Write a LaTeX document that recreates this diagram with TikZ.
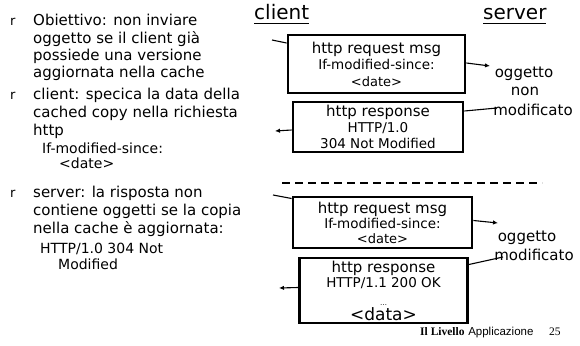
\documentclass[tikz,border=0pt]{standalone}
\usepackage{fontspec}
\setmainfont{DejaVu Sans}
\newfontfamily\timesf{Liberation Serif}
\newfontfamily\arialf{Liberation Sans}
\usetikzlibrary{arrows.meta}
\begin{document}
\begin{tikzpicture}[x=1pt,y=-1pt,
  lt/.style={anchor=base west, inner sep=0pt, font=\fontsize{15}{17}\selectfont},
  lts/.style={anchor=base west, inner sep=0pt, font=\fontsize{14}{16}\selectfont},
  bul/.style={anchor=base west, inner sep=0pt, font=\fontsize{13}{15}\selectfont},
  hdr/.style={anchor=base west, inner sep=0pt, font=\fontsize{20}{22}\selectfont},
  msgbox/.style={draw, line width=2.8pt, align=center, inner sep=0pt, font=\fontsize{14}{16}\selectfont},
  lab/.style={anchor=base, inner sep=0pt, font=\fontsize{15}{17}\selectfont},
  conn/.style={line width=1.1pt},
  arr/.style={line width=1.1pt, -{Latex[length=5pt,width=4.5pt]}},
]
\useasboundingbox (0,0) rectangle (580,345);

% left column
\node[bul] (r1) at (10,26) {r};
\foreach \t [count=\i] in {{Obiettivo: non inviare},{oggetto se il client già},{possiede una versione},{aggiornata nella cache}}
  \node[lt] (pa\i) at (33,{26+17.3*(\i-1)}) {\t};
\node[bul] (r2) at (10,99) {r};
\foreach \t [count=\i] in {{client: specica la data della},{cached copy nella richiesta},{http}}
  \node[lt] (pb\i) at (33,{99+18*(\i-1)}) {\t};
\node[lts] (pb4) at (42,153) {If-modified-since:};
\node[lts] (pb5) at (59,168) {<date>};
\node[bul] (r3) at (10,197) {r};
\foreach \t [count=\i] in {{server: la risposta non},{contiene oggetti se la copia},{nella cache è aggiornata:}}
  \node[lt] (pc\i) at (33,{197+18*(\i-1)}) {\t};
\node[lts] (pc4) at (40,253) {HTTP/1.0 304 Not};
\node[lts] (pc5) at (58,269) {Modified};

% headers
\node[hdr] (cl) at (254,20) {client};
\draw[line width=1pt] (cl.base west) ++(0,4) -- ++(55,0);
\node[hdr] (sv) at (483,20) {server};
\draw[line width=1pt] (sv.base west) ++(0,4) -- ++(63,0);

% boxes
\node[msgbox, minimum width=177pt, minimum height=58pt] (b1) at (376.5,64)
  {{\fontsize{15}{16}\selectfont http request msg}\\[0.5pt]
   {\fontsize{13.5}{15}\selectfont If-modified-since:}\\[0.5pt]
   {\fontsize{13}{15}\selectfont <date>}};
\node[msgbox, minimum width=170pt, minimum height=50pt] (b2) at (378,127)
  {{\fontsize{15}{16}\selectfont http response}\\
   {\fontsize{13.5}{15}\selectfont HTTP/1.0}\\
   {\fontsize{13.5}{15}\selectfont 304 Not Modified}};
\node[msgbox, minimum width=179pt, minimum height=51pt] (b3) at (382.5,222.5)
  {{\fontsize{15}{16}\selectfont http request msg}\\[-1pt]
   {\fontsize{13.5}{15}\selectfont If-modified-since:}\\[-1pt]
   {\fontsize{13}{15}\selectfont <date>}};
\node[msgbox, minimum width=168pt, minimum height=65pt] (b4) at (383.5,290.5)
  {{\fontsize{15}{16}\selectfont http response}\\[-1pt]
   {\fontsize{13.5}{15}\selectfont HTTP/1.1 200 OK}\\[2pt]
   {\fontsize{7}{9}\selectfont …}\\[-1pt]
   {\fontsize{17}{18}\selectfont <data>}};

% labels
\node[lab] (o1) at (524,77) {oggetto};
\node[lab] (o2) at (525,95) {non};
\node[lab] (o3) at (533,115) {modificato};
\node[lab] (o4) at (527,241) {oggetto};
\node[lab] (o5) at (534,260) {modificato};

% dashed separator
\coordinate (d1) at (282,183);
\coordinate (d2) at (542,183);
\draw[line width=2.5pt, dash pattern=on 8pt off 5pt] (d1) -- (d2);

% free ends
\coordinate (c1) at (272,40);
\coordinate (s1) at (490,66);
\coordinate (s2) at (497,108);
\coordinate (c2) at (275,131);
\coordinate (c3) at (273,195);
\coordinate (s3) at (498,223);
\coordinate (s4) at (503,257);
\coordinate (c4) at (279,288);

\draw[conn] (c1) -- ([yshift=21pt]b1.west);
\draw[arr] ([yshift=1pt]b1.east) -- (s1);
\draw[conn] ([yshift=16pt]b2.east) -- (s2);
\draw[arr] ([yshift=-3pt]b2.west) -- (c2);
\draw[conn] (c3) -- ([yshift=24pt]b3.west);
\draw[arr] ([yshift=2pt]b3.east) -- (s3);
\draw[conn] ([yshift=26pt]b4.east) -- (s4);
\draw[arr] ([yshift=3pt]b4.west) -- (c4);

% footer
\node[anchor=base west, inner sep=0pt, font=\fontsize{11.5}{13}\selectfont] (ft) at (420,335)
  {{\timesf\bfseries Il Livello} {\arialf Applicazione}};
\node[anchor=base west, inner sep=0pt, font=\timesf\fontsize{11.5}{13}\selectfont] (pg) at (549,335) {25};
\end{tikzpicture}
\end{document}
